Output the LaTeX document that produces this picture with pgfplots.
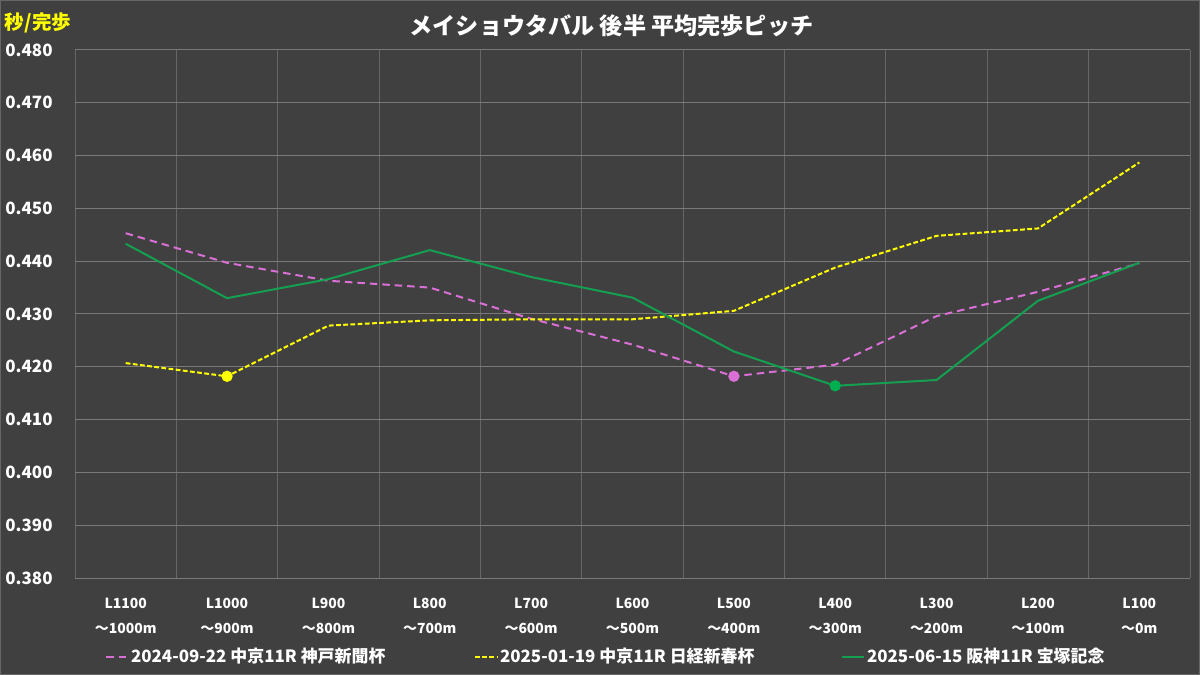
\documentclass[border=0pt]{standalone}
\usepackage{fontspec}
\setmainfont{Noto Sans CJK JP}
\usepackage{pgfplots}
\pgfplotsset{compat=1.18}
\definecolor{bg}{HTML}{404040}
\definecolor{hgrid}{HTML}{7A7A7A}
\definecolor{vgrid}{HTML}{666666}
\definecolor{pinkc}{HTML}{DA70D6}
\definecolor{yelc}{HTML}{FFFF00}
\definecolor{grnc}{HTML}{14A050}
\definecolor{grnm}{HTML}{00B050}
\begin{document}
\begin{tikzpicture}
\fill[bg] (0,0) rectangle (600bp,337.5bp);
\draw[color=gray!80!black, line width=0.6bp] (0.3bp,0.3bp) rectangle (599.7bp,337.2bp);
\node[font=\fontsize{11.6}{13}\selectfont\bfseries, text=white] at (305.75bp,324.5bp) {メイショウタバル 後半 平均完歩ピッチ};
\node[font=\fontsize{9.8}{12}\selectfont\bfseries, text=yelc, anchor=west, inner sep=0pt] at (2.3bp,326.2bp) {秒/完歩};
\begin{axis}[
  at={(37.5bp,48.5bp)}, anchor=south west,
  scale only axis, width=557.5bp, height=264bp,
  xmin=-0.5, xmax=10.5, ymin=0.38, ymax=0.48,
  axis line style={draw=none},
  xtick={0,1,2,3,4,5,6,7,8,9,10},
  minor xtick={-0.5,0.5,1.5,2.5,3.5,4.5,5.5,6.5,7.5,8.5,9.5,10.5},
  xticklabels={{L1100\\〜1000m},{L1000\\〜900m},{L900\\〜800m},{L800\\〜700m},{L700\\〜600m},{L600\\〜500m},{L500\\〜400m},{L400\\〜300m},{L300\\〜200m},{L200\\〜100m},{L100\\〜0m}},
  xticklabel style={align=center, font=\fontsize{7}{13}\selectfont\bfseries, text=white, yshift=-6.3bp},
  ytick={0.38,0.39,0.40,0.41,0.42,0.43,0.44,0.45,0.46,0.47,0.48},
  scaled y ticks=false,
  yticklabel style={font=\fontsize{8.5}{10}\selectfont\bfseries, text=white, anchor=east, inner sep=0pt, xshift=-11bp,
    /pgf/number format/.cd, fixed, fixed zerofill, precision=3, assume math mode=true},
  major tick length=0pt, minor tick length=0pt,
  ymajorgrids, xminorgrids,
  major grid style={color=hgrid, line width=0.5bp},
  minor grid style={color=vgrid, line width=0.5bp},
  legend columns=3,
  legend style={draw=none, fill=none, at={(0.0266,-0.1496)}, anchor=west,
    font=\fontsize{8.5}{10}\selectfont\bfseries, text=white, inner sep=0pt,
    nodes={inner xsep=1bp, inner ysep=0pt},
    /tikz/every even column/.append style={column sep=0bp}},
  legend image code/.code={\draw[#1] (0bp,0bp) -- (11bp,0bp);},
]
\addplot[color=pinkc, line width=1bp, dash pattern=on 3.75bp off 2.5bp,
  mark=*, mark indices={7}, mark size=2.3bp, mark options={solid, fill=pinkc, draw=pinkc}]
  coordinates {(0,0.4453) (1,0.4397) (2,0.4363) (3,0.4350) (4,0.4291) (5,0.4242) (6,0.4182) (7,0.4204) (8,0.4296) (9,0.4342) (10,0.4396)};
\addlegendentry{\makebox[170.5bp][l]{2024-09-22 中京11R 神戸新聞杯}}
\addplot[color=yelc, line width=1bp, dash pattern=on 2.4bp off 1.2bp,
  mark=*, mark indices={2}, mark size=2.3bp, mark options={solid, fill=yelc, draw=yelc}]
  coordinates {(0,0.4207) (1,0.4182) (2,0.4278) (3,0.4288) (4,0.4290) (5,0.4290) (6,0.4306) (7,0.4388) (8,0.4448) (9,0.4462) (10,0.4587)};
\addlegendentry{\makebox[169.5bp][l]{2025-01-19 中京11R 日経新春杯}}
\addplot[color=grnc, line width=1bp,
  mark=*, mark indices={8}, mark size=2.3bp, mark options={solid, fill=grnm, draw=grnm}]
  coordinates {(0,0.4433) (1,0.4330) (2,0.4366) (3,0.4421) (4,0.4370) (5,0.4331) (6,0.4229) (7,0.4164) (8,0.4175) (9,0.4325) (10,0.4397)};
\addlegendentry{2025-06-15 阪神11R 宝塚記念}
\end{axis}
\end{tikzpicture}
\end{document}
